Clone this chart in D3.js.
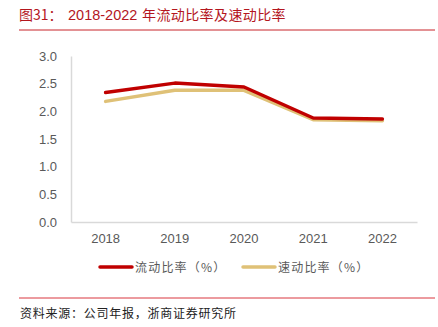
<!DOCTYPE html>
<html>
<head>
<meta charset="utf-8">
<script src="https://cdn.jsdelivr.net/npm/d3@7"></script>
<style>
body{margin:0;background:#fff;}
svg{display:block;}
</style>
</head>
<body>
<svg id="chart" width="438" height="327"></svg>
<script>
// 数据
var years = ["2018","2019","2020","2021","2022"];
var currentRatio = [2.34, 2.51, 2.44, 1.88, 1.86];
var quickRatio = [2.18, 2.38, 2.38, 1.85, 1.83];
var yTicks = [0, 0.5, 1.0, 1.5, 2.0, 2.5, 3.0];
var seriesNames = ["流动比率（%）", "速动比率（%）"];
var colors = ["#c00000", "#dfc177"];

var svg = d3.select("#chart");
var cjk = "'Noto Sans CJK SC', sans-serif";
var latin = "'Liberation Sans', Arial, sans-serif";

// 标题
var title = svg.append("text").attr("x",19).attr("y",20)
  .style("font-family",cjk).style("font-size","14px").style("fill","#b4161e");
title.append("tspan").text("图31：");
title.append("tspan").attr("x",68).style("font-family",latin).style("font-size","14.5px").text("2018-2022");
title.append("tspan").attr("x",142).style("letter-spacing","0.4px").text("年流动比率及速动比率");

svg.append("line").attr("x1",19).attr("x2",435).attr("y1",30).attr("y2",30)
  .attr("stroke","#c8242b").attr("stroke-width",1);

var x = d3.scaleBand().domain(years).range([71,417]);
var y = d3.scaleLinear().domain([0,3]).range([222,56]);

// 坐标轴
var yAxis = svg.append("g").attr("transform","translate(71,0)")
  .call(d3.axisLeft(y).tickValues(yTicks).tickFormat(d3.format(".1f")).tickSize(0).tickPadding(14));
yAxis.select(".domain").attr("stroke","#d9d9d9").attr("stroke-width",1.5);

var xAxis = svg.append("g").attr("transform","translate(0,222)")
  .call(d3.axisBottom(x).tickSize(0).tickPadding(12));
xAxis.select(".domain").attr("stroke","#d9d9d9").attr("stroke-width",1.5);

svg.selectAll(".tick text").style("font-family",latin)
  .style("font-size","13px").style("fill","#595959");

var line = d3.line().x(function(d,i){ return x(years[i]) + x.bandwidth()/2; }).y(function(d){ return y(d); });

// 先画速动比率，再画流动比率
[quickRatio, currentRatio].forEach(function(data, k){
  svg.append("path").datum(data).attr("d", line)
    .attr("fill","none").attr("stroke", k==0 ? colors[1] : colors[0])
    .attr("stroke-width",3.5).attr("stroke-linecap","round").attr("stroke-linejoin","round");
});

// 图例
var legendX = [100, 243];
seriesNames.forEach(function(name, i){
  var g = svg.append("g").attr("transform","translate("+legendX[i]+",267)");
  g.append("line").attr("x1",0).attr("x2",32).attr("stroke",colors[i]).attr("stroke-width",3.5).attr("stroke-linecap","round");
  g.append("text").attr("x",35).attr("y",4.5).text(name)
    .style("font-family",cjk).style("font-size","12px").style("letter-spacing","1.2px").style("fill","#595959");
});

// 资料来源
svg.append("line").attr("x1",19).attr("x2",435).attr("y1",298).attr("y2",298)
  .attr("stroke","#d9363e").attr("stroke-width",1);
svg.append("text").attr("x",20).attr("y",318).text("资料来源：公司年报，浙商证券研究所")
  .style("font-family",cjk).style("font-size","12px").style("letter-spacing","0.75px").style("fill","#222");
</script>
</body>
</html>
